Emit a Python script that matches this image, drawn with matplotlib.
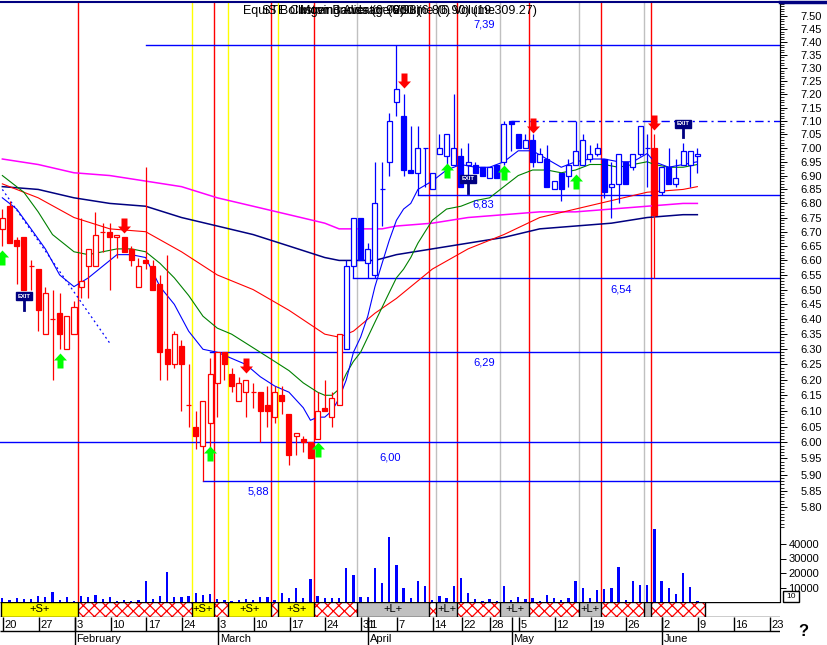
import numpy as np
import matplotlib
matplotlib.use("Agg")
import matplotlib.pyplot as plt
from matplotlib.patches import Rectangle
from matplotlib.path import Path
from matplotlib.lines import Line2D
from matplotlib.ticker import FixedLocator, FixedFormatter, NullFormatter

plt.rcParams['font.family'] = ['Liberation Sans', 'DejaVu Sans']
plt.rcParams['hatch.linewidth'] = 0.9

# daily OHLC, trading-day index 0 = Jan 20 ... 97 = Jun 9
open_ = [6.71, 6.79, 6.67, 6.68, 6.58, 6.57, 6.35, 6.40, 6.42, 6.30,
         6.35, 6.51, 6.58, 6.58, 6.70, 6.70, 6.68, 6.68, 6.64, 6.51,
         6.60, 6.58, 6.52, 6.30, 6.25, 6.31, 6.12, 6.05, 5.99, 6.06,
         6.19, 6.29, 6.22, 6.13, 6.16, 6.16, 6.16, 6.12, 6.08, 6.15,
         6.09, 6.02, 6.01, 6.00, 6.01, 6.11, 6.08, 6.12, 6.30, 6.58,
         6.75, 6.59, 6.55, 6.85, 6.95, 7.17, 7.12, 6.92, 6.91, 7.00,
         6.85, 6.98, 6.97, 6.94, 6.97, 6.94, 6.94, 6.93, 6.89, 6.94,
         6.95, 7.10, 7.05, 7.00, 7.03, 6.95, 6.96, 6.85, 6.91, 6.90,
         6.94, 6.94, 6.96, 6.98, 6.96, 6.86, 6.87, 6.95, 6.93, 6.98,
         7.00, 7.00, 6.84, 6.93, 6.87, 6.94, 6.94, 6.97]
high = [6.78, 6.81, 6.68, 6.68, 6.60, 6.57, 6.51, 6.50, 6.49, 6.41,
        6.46, 6.75, 6.64, 6.77, 6.73, 6.73, 6.69, 6.68, 6.65, 6.61,
        6.93, 6.60, 6.55, 6.62, 6.36, 6.33, 6.25, 6.10, 6.13, 6.27,
        6.29, 6.29, 6.24, 6.21, 6.20, 6.19, 6.16, 6.18, 6.18, 6.18,
        6.09, 6.03, 6.02, 6.00, 6.16, 6.20, 6.16, 6.35, 6.60, 6.75,
        6.75, 6.66, 6.95, 6.95, 7.13, 7.39, 7.20, 7.08, 7.08, 7.00,
        6.91, 7.05, 7.05, 7.20, 7.00, 7.02, 6.95, 6.93, 6.93, 6.94,
        7.10, 7.10, 7.05, 7.05, 7.05, 7.00, 7.01, 6.88, 6.91, 6.96,
        7.10, 7.05, 7.01, 7.02, 6.96, 6.95, 6.98, 6.95, 6.98, 7.08,
        7.05, 7.05, 6.93, 7.00, 6.96, 7.02, 6.99, 7.00]
low = [6.65, 6.66, 6.52, 6.50, 6.50, 6.36, 6.35, 6.20, 6.30, 6.30,
       6.35, 6.47, 6.47, 6.58, 6.63, 6.50, 6.61, 6.63, 6.58, 6.51,
       6.57, 6.50, 6.20, 6.20, 6.24, 6.10, 6.05, 5.98, 5.88, 5.98,
       6.08, 6.20, 6.16, 6.13, 6.08, 6.11, 6.00, 6.05, 6.06, 6.09,
       5.93, 5.96, 5.97, 5.95, 6.01, 6.10, 6.05, 6.12, 6.30, 6.54,
       6.60, 6.54, 6.54, 6.72, 6.90, 7.12, 6.90, 6.91, 6.83, 6.86,
       6.85, 6.98, 6.94, 6.94, 6.86, 6.84, 6.91, 6.90, 6.89, 6.89,
       6.94, 6.99, 7.00, 7.00, 6.93, 6.95, 6.86, 6.85, 6.81, 6.86,
       6.94, 6.94, 6.95, 6.97, 6.82, 6.75, 6.80, 6.87, 6.92, 6.97,
       6.86, 6.54, 6.83, 6.87, 6.86, 6.94, 6.86, 6.91]
close = [6.75, 6.66, 6.65, 6.50, 6.58, 6.43, 6.49, 6.40, 6.35, 6.41,
         6.44, 6.53, 6.64, 6.69, 6.70, 6.68, 6.69, 6.63, 6.60, 6.58,
         6.59, 6.50, 6.29, 6.25, 6.35, 6.25, 6.12, 6.02, 6.13, 6.22,
         6.29, 6.25, 6.18, 6.19, 6.20, 6.16, 6.10, 6.10, 6.16, 6.13,
         5.96, 6.03, 6.00, 5.95, 6.10, 6.10, 6.14, 6.35, 6.58, 6.75,
         6.60, 6.64, 6.80, 6.85, 7.10, 7.22, 6.92, 6.91, 7.00, 7.00,
         6.91, 7.00, 7.05, 7.00, 6.86, 6.95, 6.91, 6.90, 6.93, 6.89,
         7.09, 7.09, 7.00, 7.03, 6.95, 6.98, 6.86, 6.88, 6.85, 6.94,
         6.99, 7.03, 6.98, 7.00, 6.84, 6.87, 6.98, 6.87, 6.98, 7.08,
         7.00, 6.76, 6.93, 6.87, 6.89, 6.99, 6.99, 6.98]
volume = [2500, 1400, 2800, 2100, 2100, 4100, 3400, 6900, 1400, 3400,
          700, 4100, 3400, 4800, 2100, 3400, 900, 1400, 900, 1400,
          14500, 2100, 4100, 20900, 3400, 3400, 4100, 6200, 4800, 5700,
          2100, 1400, 700, 1400, 2100, 1400, 3400, 3400, 1400, 6200,
          2800, 9400, 2800, 15600, 4100, 2800, 2800, 2800, 23400, 18400,
          3400, 3400, 23200, 13300, 45000, 25500, 9700, 2800, 14500, 11000,
          1100, 4100, 2800, 11000, 16600, 6200, 2100, 700, 2100, 700,
          11000, 1100, 3400, 2100, 2800, 700, 5100, 2800, 1400, 2800,
          14500, 9700, 2800, 8300, 9000, 9400, 24100, 1400, 14500, 11700,
          11700, 50100, 14500, 9400, 5500, 20200, 10300, 700]

# moving averages (index, price)
blue_ma_idx = [0, 2, 4, 6, 8, 10, 12, 14, 16, 18, 20, 22, 24, 26, 28, 30, 32, 34, 36, 38,
               40, 42, 43, 44, 45, 46, 47, 48, 49, 50, 51, 52, 53, 54, 55, 56, 57, 58, 60, 62,
               64, 66, 68, 70, 72, 74, 76, 78, 80, 82, 84, 86, 88, 90, 91, 93, 95, 97]
blue_ma = [6.82, 6.78, 6.71, 6.64, 6.55, 6.51, 6.54, 6.58, 6.62, 6.62, 6.61, 6.51, 6.45, 6.36,
           6.30, 6.29, 6.27, 6.25, 6.21, 6.18, 6.16, 6.11, 6.07, 6.08, 6.08, 6.10, 6.14, 6.20,
           6.29, 6.34, 6.41, 6.51, 6.59, 6.67, 6.74, 6.78, 6.80, 6.85, 6.88, 6.92, 6.94, 6.93,
           6.93, 6.95, 6.99, 6.99, 6.96, 6.93, 6.95, 6.96, 6.96, 6.95, 6.95, 6.98, 6.95, 6.93,
           6.94, 6.95]
green_ma_idx = [0, 3, 5, 7, 9, 10, 12, 14, 16, 18, 20, 22, 24, 26, 28, 30, 32, 34, 36, 38,
                40, 42, 44, 45, 46, 47, 48, 49, 50, 52, 54, 55, 56, 57, 58, 59, 60, 62, 64, 66,
                68, 70, 72, 74, 76, 78, 80, 82, 84, 86, 88, 90, 91, 93, 95, 97]
green_ma = [6.90, 6.84, 6.77, 6.69, 6.65, 6.63, 6.62, 6.63, 6.64, 6.64, 6.63, 6.59, 6.54, 6.48,
            6.41, 6.37, 6.35, 6.32, 6.29, 6.26, 6.23, 6.19, 6.16, 6.15, 6.15, 6.17, 6.22, 6.26,
            6.29, 6.39, 6.49, 6.54, 6.57, 6.61, 6.66, 6.70, 6.74, 6.78, 6.79, 6.81, 6.82, 6.86,
            6.90, 6.92, 6.92, 6.91, 6.92, 6.94, 6.94, 6.93, 6.94, 6.95, 6.94, 6.93, 6.93, 6.94]
red_ma_idx = [0, 5, 10, 15, 20, 25, 30, 35, 40, 45, 47, 49, 52, 55, 60, 65, 70, 75, 80, 85, 90, 95, 97]
red_ma = [6.87, 6.82, 6.75, 6.71, 6.70, 6.63, 6.55, 6.50, 6.43, 6.35, 6.34, 6.36, 6.42, 6.47,
          6.57, 6.64, 6.69, 6.75, 6.78, 6.81, 6.84, 6.85, 6.86]
navy_ma_idx = [0, 5, 10, 15, 20, 25, 30, 35, 40, 45, 47, 50, 52, 55, 60, 65, 70, 75, 80, 85, 90, 95, 97]
navy_ma = [6.86, 6.85, 6.82, 6.80, 6.79, 6.75, 6.72, 6.69, 6.65, 6.61, 6.60, 6.60, 6.60, 6.62,
           6.64, 6.66, 6.68, 6.71, 6.72, 6.73, 6.75, 6.76, 6.76]
magenta_ma_idx = [0, 5, 10, 15, 20, 25, 30, 35, 40, 45, 47, 50, 53, 55, 60, 65, 70, 75, 80, 85, 90, 95, 97]
magenta_ma = [6.96, 6.94, 6.91, 6.90, 6.88, 6.86, 6.82, 6.79, 6.76, 6.73, 6.71, 6.71, 6.71, 6.72,
              6.73, 6.75, 6.76, 6.77, 6.77, 6.78, 6.79, 6.80, 6.80]
trend_idx = [0, 15]
trend_price = [6.85, 6.32]

# support / resistance levels
levels = [7.39, 7.10, 6.83, 6.54, 6.29, 6.00, 5.88]
level_start = [20, 71, 58, 49, 29, -1, 28]
level_text = ["7,39", "", "6,83", "6,54", "6,29", "6,00", "5,88"]
level_text_idx = [67.2, 0, 67.1, 86.3, 67.2, 54.1, 35.8]
level_text_price = [7.466, 0, 6.795, 6.499, 6.258, 5.952, 5.847]

# signals
buy_idx = [0, 8, 29, 44, 62, 70, 80]
buy_price = [6.636, 6.288, 5.989, 6.001, 6.946, 6.939, 6.906]
sell_idx = [17, 34, 56, 74, 91]
sell_price = [6.696, 6.222, 7.222, 7.055, 7.066]
exit_idx = [3, 65, 95]
exit_price = [6.478, 6.888, 7.09]
exit_stem = [6.43, 6.837, 7.04]

red_lines = [10.5, 29.5, 37.5, 43.5, 59.5, 63.5, 73.5, 83.5, 90.5]
yellow_lines = [26.5, 31.5, 38.5]
grey_lines = [49.5, 60.5, 69.5, 80.5, 89.5]

band_edges = [-0.2, 10.5, 26.5, 29.5, 31.5, 37.5, 38.5, 43.5, 49.5, 59.5, 60.5,
              63.5, 69.5, 73.5, 80.5, 83.5, 89.5, 90.5, 98.0]
band_kind = "YHYHYHYHGHGHGHGHGH"

day_tick_idx = [0, 5, 10, 15, 20, 25, 30, 35, 40, 45, 50, 51, 55, 60, 64, 68, 72, 77,
                82, 87, 92, 97, 102, 107]
day_tick_lbl = ["20", "27", "3", "10", "17", "24", "3", "10", "17", "24", "31", "1", "7",
                "14", "22", "28", "5", "12", "19", "26", "2", "9", "16", "23"]
month_idx = [10, 30, 51, 71, 92]
month_lbl = ["February", "March", "April", "May", "June"]

price_ticks = [round(5.80 + 0.05 * k, 2) for k in range(35)]
vol_ticks = [10000, 20000, 30000, 40000]

W, H = 827, 645
X0, DX = 2.35, 7.165            # pixel of day 0, pixels per day
XL, XR = -X0 / DX, (780 - X0) / DX
PMIN, PMAX = 5.519, 7.5525

RED, BLUE, NAVY = '#FF0000', '#0000FF', '#000080'


def box(x0, y0, x1, y1):
    """pixel box (origin top-left) -> figure fraction rect"""
    return [x0 / W, 1 - y1 / H, (x1 - x0) / W, (y1 - y0) / H]


def arrow_marker(up=True):
    s = 1 if up else -1
    verts = [(0, 0), (6.5, -7 * s), (3, -7 * s), (3, -15 * s), (-3, -15 * s),
             (-3, -7 * s), (-6.5, -7 * s), (0, 0)]
    codes = [Path.MOVETO] + [Path.LINETO] * 6 + [Path.CLOSEPOLY]
    return Path(verts, codes)


def draw_candles(ax):
    for i in range(len(open_)):
        col = RED if (i < 48 or i == 91) else BLUE
        o, h, l, c = open_[i], high[i], low[i], close[i]
        ax.vlines(i, l, h, color=col, lw=0.9, zorder=4)
        if abs(o - c) < 0.004:
            ax.hlines(o, i - 0.35, i + 0.35, color=col, lw=0.9, zorder=5)
        else:
            fc = col if c < o else 'white'
            ax.add_patch(Rectangle((i - 0.35, min(o, c)), 0.7, abs(o - c),
                                   facecolor=fc, edgecolor=col, lw=0.9, zorder=5))


fig = plt.figure(figsize=(W / 100, H / 100), dpi=100)
fig.patch.set_facecolor('white')

# volume panel (same area as price panel)
axv = fig.add_axes(box(0, 3, 780, 602))
axv.set_xlim(XL, XR)
axv.set_ylim(0, 599 / 14.5 * 10000)
axv.bar(range(len(volume)), volume, width=0.32, color=BLUE, zorder=3)
for s in ['left', 'top', 'bottom']:
    axv.spines[s].set_visible(False)
axv.spines['right'].set_color('black')
axv.set_xticks([])
axv.yaxis.tick_right()
axv.set_yticks(vol_ticks)
axv.set_yticklabels([str(v) for v in vol_ticks], fontsize=8)
axv.tick_params(axis='y', direction='out', length=4, width=0.7, pad=2)
axv.patch.set_alpha(0)

# price panel
ax = fig.add_axes(box(0, 3, 780, 602))
ax.patch.set_alpha(0)
ax.set_yscale('log')
ax.set_xlim(XL, XR)
ax.set_ylim(PMIN, PMAX)
for s in ['left', 'top', 'bottom']:
    ax.spines[s].set_visible(False)
ax.spines['right'].set_color('black')
ax.set_xticks([])
ax.yaxis.tick_right()
ax.yaxis.set_major_locator(FixedLocator(price_ticks))
ax.yaxis.set_major_formatter(FixedFormatter(['%.2f' % p for p in price_ticks]))
ax.yaxis.set_minor_locator(FixedLocator([round(5.74 + 0.01 * k, 2) for k in range(182)]))
ax.yaxis.set_minor_formatter(NullFormatter())
ax.tick_params(axis='y', which='major', direction='out', length=5, width=0.7, pad=10, labelsize=8)
ax.tick_params(axis='y', which='minor', direction='out', length=3, width=0.6)

# signal verticals
for x in red_lines:
    ax.axvline(x, color=RED, lw=1, zorder=1)
for x in yellow_lines:
    ax.axvline(x, color='#FFFF00', lw=1, zorder=1)
for x in grey_lines:
    ax.axvline(x, color='#C0C0C0', lw=1, zorder=1)

# horizontal levels
for lv, st, tx, ti, tp in zip(levels, level_start, level_text, level_text_idx, level_text_price):
    if tx == "":
        ax.plot([st, XR], [lv, lv], color=BLUE, lw=1, dashes=(6, 3, 1.5, 3), zorder=2)
        continue
    ax.plot([max(st, XL), XR], [lv, lv], color=BLUE, lw=1, zorder=2)
    ax.text(ti, tp, tx, color=BLUE, fontsize=8, ha='center', va='center', zorder=6)

# moving averages
ax.plot(magenta_ma_idx, magenta_ma, color='#FF00FF', lw=1.1, zorder=3)
ax.plot(navy_ma_idx, navy_ma, color=NAVY, lw=1.1, zorder=3)
ax.plot(red_ma_idx, red_ma, color=RED, lw=0.8, zorder=3)
ax.plot(green_ma_idx, green_ma, color='#008000', lw=0.8, zorder=3)
ax.plot(blue_ma_idx, blue_ma, color=BLUE, lw=0.8, zorder=3)
ax.plot(trend_idx, trend_price, color=BLUE, lw=0.9, ls=(0, (1.5, 2.5)), zorder=3)

draw_candles(ax)

# buy / sell arrows and exit flags
ax.plot(buy_idx, buy_price, ls='none', marker=arrow_marker(True), ms=21.6,
        color='#00FF00', mew=0, zorder=7)
ax.plot(sell_idx, sell_price, ls='none', marker=arrow_marker(False), ms=21.6,
        color=RED, mew=0, zorder=7)
for xi, p, stem in zip(exit_idx, exit_price, exit_stem):
    ax.plot([xi, xi], [stem, p], color=NAVY, lw=2, zorder=7)
    ax.text(xi, p, "EXIT", fontsize=4.2, fontweight='bold', color='white', ha='center',
            va='center', zorder=8,
            bbox=dict(boxstyle='square,pad=0.25', fc=NAVY, ec=NAVY))

# signal band
axb = fig.add_axes(box(0, 602, 780, 617))
axb.set_xlim(XL, XR)
axb.set_ylim(0, 1)
axb.axis('off')
for k, kind in enumerate(band_kind):
    a, b = band_edges[k], band_edges[k + 1]
    if kind == 'H':
        axb.add_patch(Rectangle((a, 0), b - a, 1, facecolor='white', edgecolor=RED,
                                hatch='xxx', lw=0))
    else:
        fc = '#FFFF00' if kind == 'Y' else '#C0C0C0'
        axb.add_patch(Rectangle((a, 0), b - a, 1, facecolor=fc, lw=0))
        if b - a >= 2.5:
            axb.text((a + b) / 2, 0.5, '+S+' if kind == 'Y' else '+L+', fontsize=8,
                     ha='center', va='center')
axb.vlines(band_edges, 0, 1, color='black', lw=1)
axb.hlines([0.02, 0.98], XL, XR, color='black', lw=1)

# date axis
axd = fig.add_axes(box(0, 617, 780, 645))
axd.set_xlim(XL, XR)
axd.set_ylim(28, 0)
axd.axis('off')
axd.hlines(14, XL, XR, color='black', lw=1)
for xi, lb in zip(day_tick_idx, day_tick_lbl):
    axd.vlines(xi + 0.1, 0, 14, color='black', lw=1)
    axd.text(xi + 0.3, 7.5, lb, fontsize=8, ha='left', va='center')
for xi, lb in zip(month_idx, month_lbl):
    axd.vlines(xi + 0.1, 0, 28, color='black', lw=1)
    axd.text(xi + 0.35, 21.5, lb, fontsize=8, ha='left', va='center')

# frame decorations
fig.add_artist(Line2D([0, 780 / W], [1 - 2 / H, 1 - 2 / H], color=NAVY, lw=1.5))
fig.add_artist(Line2D([780 / W, 1], [1 - 1.5 / H, 1 - 1.5 / H], color=NAVY, lw=2.5))
fig.add_artist(Rectangle((783 / W, 1 - 602 / H), 16 / W, 11 / H, transform=fig.transFigure,
                         facecolor='white', edgecolor='black', lw=1))
fig.text(786 / W, 1 - 597 / H, "10", fontsize=6, va='center', ha='left')
fig.text(803 / W, 1 - 632 / H, "?", fontsize=12, fontweight='bold', va='center', ha='center')

# overlapping indicator titles
fig.text(243 / W, 1 - 11 / H, "EquiS Bollinger Bands (6.99)", fontsize=9, va='center')
fig.text(262 / W, 1 - 11 / H, "STE Custom Indicator (6.98)", fontsize=9, va='center')
fig.text(300 / W, 1 - 11 / H, "Moving Average 200 (6.80) Volume", fontsize=9, va='center')
fig.text(537 / W, 1 - 11 / H, "Volume (6.90) (19.309.27)", fontsize=9, va='center', ha='right')

fig.savefig('out.png', dpi=100)
